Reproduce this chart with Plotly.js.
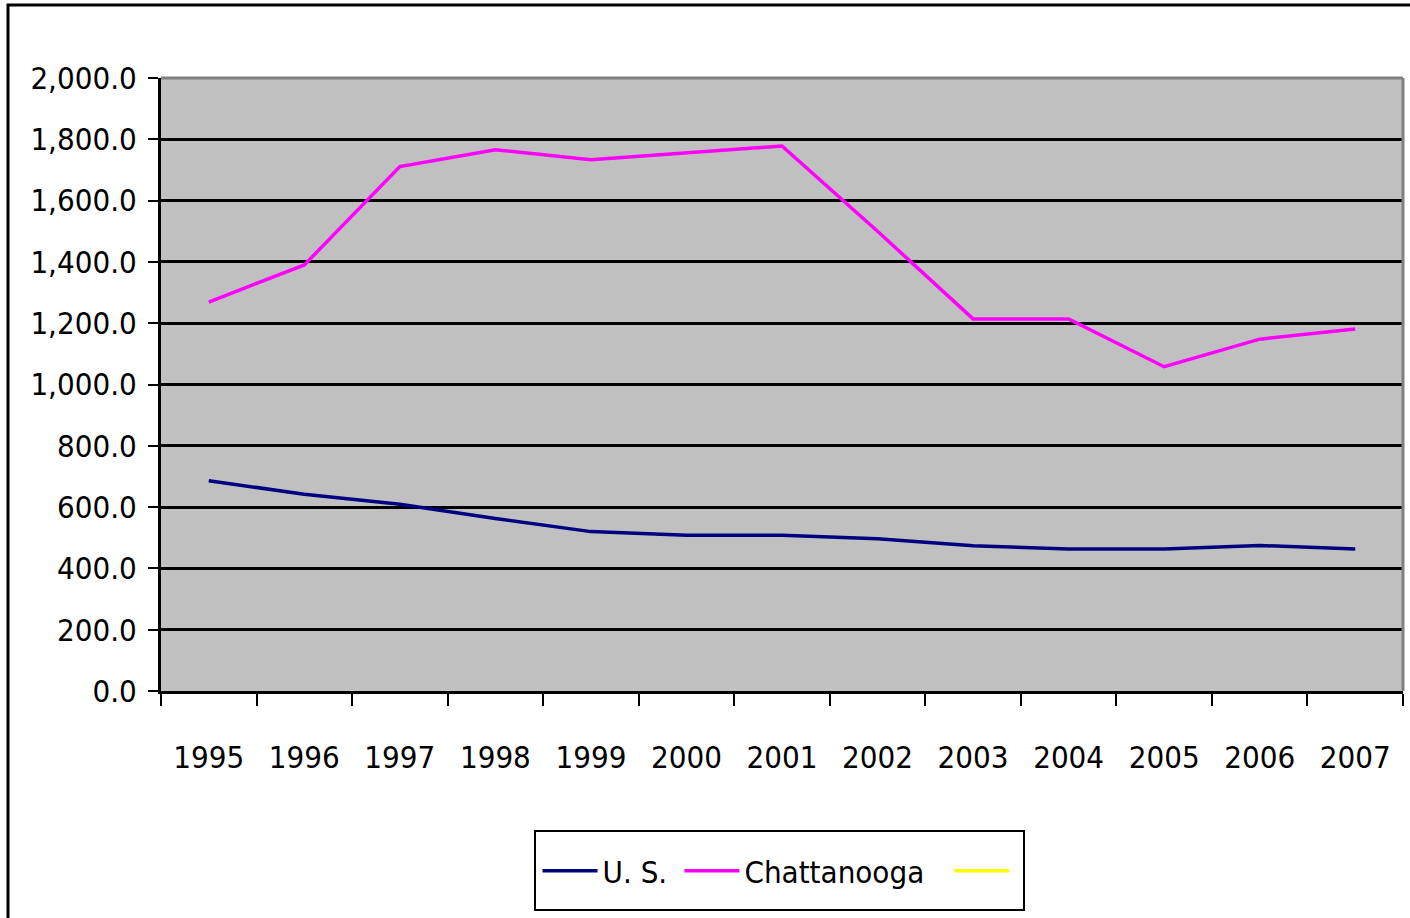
<!DOCTYPE html>
<html>
<head>
<meta charset="utf-8">
<script src="https://cdn.plot.ly/plotly-3.0.1.min.js"></script>
<style>
html,body{margin:0;padding:0;background:#fff;}
#chart{width:1410px;height:918px;}
#chart svg text{font-stretch:condensed !important;}
</style>
</head>
<body>
<div id="chart"></div>
<script>
const years = ["1995","1996","1997","1998","1999","2000","2001","2002","2003","2004","2005","2006","2007"];
const usValues = [686, 642, 609, 563, 520, 508, 508, 497, 474, 463, 463, 475, 463];
const chattanoogaValues = [1269, 1390, 1711, 1766, 1733, 1755, 1778, 1500, 1214, 1214, 1058, 1148, 1181];
const thirdValues = [null, null, null, null, null, null, null, null, null, null, null, null, null];
const seriesNames = ["U. S.", "Chattanooga", " "];
const yTicks = [0, 200, 400, 600, 800, 1000, 1200, 1400, 1600, 1800, 2000];

const FONT = "'DejaVu Sans', sans-serif";
const FS = 31;

const traces = [
  {x: years, y: usValues, name: seriesNames[0], type: "scatter", mode: "lines",
   line: {color: "#000080", width: 3.5}},
  {x: years, y: chattanoogaValues, name: seriesNames[1], type: "scatter", mode: "lines",
   line: {color: "#FF00FF", width: 3.5}},
  {x: years, y: thirdValues, name: seriesNames[2], type: "scatter", mode: "lines",
   line: {color: "#FFFF00", width: 3.5}}
];

const L = 161, R = 1403, T = 78, B = 691, W = 1410, H = 918;
const pw = R - L, ph = B - T;
function px(x){ return (x - L) / pw; }
function py(y){ return (B - y) / ph; }

const layout = {
  width: W, height: H,
  margin: {l: L, r: W - R, t: T, b: H - B, pad: 0},
  paper_bgcolor: "#ffffff",
  plot_bgcolor: "#C0C0C0",
  font: {family: FONT, size: FS, color: "#000"},
  showlegend: true,
  legend: {
    orientation: "h", x: px(783.5), xanchor: "center", y: py(871), yanchor: "middle",
    bgcolor: "rgba(0,0,0,0)", borderwidth: 0,
    font: {family: FONT, size: FS, color: "#000"},
    itemwidth: 55, tracegroupgap: 0, itemclick: false
  },
  xaxis: {
    type: "category", tickmode: "array", tickvals: years, ticktext: years,
    range: [-0.5, 12.5],
    tickson: "boundaries", ticks: "outside", ticklen: 12, tickwidth: 2, tickcolor: "#000",
    showline: true, linecolor: "#000", linewidth: 3, showgrid: false, zeroline: false,
    ticklabelstandoff: 37,
    tickfont: {family: FONT, size: FS, color: "#000"},
    fixedrange: true
  },
  yaxis: {
    range: [0, 2000], tickmode: "array", tickvals: yTicks, tickformat: ",.1f",
    ticks: "outside", ticklen: 10, tickwidth: 2, tickcolor: "#000",
    showline: true, linecolor: "#000", linewidth: 3,
    showgrid: true, gridcolor: "#000", gridwidth: 3, zeroline: false,
    ticklabelstandoff: 5,
    tickfont: {family: FONT, size: FS, color: "#000"},
    fixedrange: true
  },
  shapes: [
    {type: "line", xref: "paper", yref: "paper", x0: 0, x1: 1, y0: 1, y1: 1,
     line: {color: "#808080", width: 3}, layer: "above"},
    {type: "line", xref: "paper", yref: "paper", x0: 1, x1: 1, y0: 0, y1: 1,
     line: {color: "#808080", width: 3}, layer: "above"},
    {type: "rect", xref: "paper", yref: "paper", x0: px(8), x1: px(1430), y0: py(940), y1: py(5),
     line: {color: "#000", width: 3}, fillcolor: "rgba(0,0,0,0)", layer: "above"},
    {type: "rect", xref: "paper", yref: "paper", x0: px(535), x1: px(1024), y0: py(910), y1: py(831),
     line: {color: "#000", width: 2}, fillcolor: "rgba(0,0,0,0)", layer: "above"}
  ]
};

Plotly.newPlot("chart", traces, layout, {displayModeBar: false, staticPlot: true});
</script>
</body>
</html>
